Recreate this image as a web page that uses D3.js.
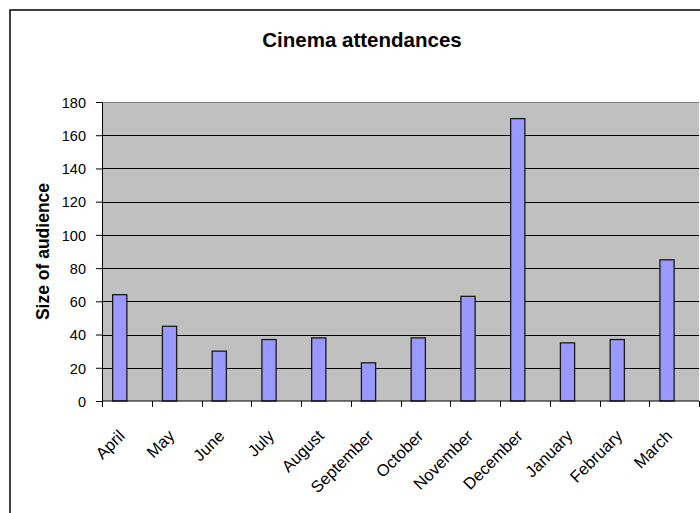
<!DOCTYPE html>
<html>
<head>
<meta charset="utf-8">
<script src="https://cdn.jsdelivr.net/npm/d3@7"></script>
<style>
    body { margin: 0; background: #fff; }
    svg { display: block; font-family: Arial, 'Liberation Sans', sans-serif; }
</style>
</head>
<body>
<div id="chart"></div>
<script>
'use strict';

var months = ['April', 'May', 'June', 'July', 'August', 'September', 'October', 'November', 'December', 'January', 'February', 'March'];
var audience = [64, 45, 30, 37, 38, 23, 38, 63, 170, 35, 37, 85];
var yTicks = [0, 20, 40, 60, 80, 100, 120, 140, 160, 180];

var width = 700,
    height = 513,
    margin = { top: 102, right: 1, bottom: 112, left: 102 },
    svg = d3.select('#chart').append('svg').attr('width', width).attr('height', height);

var x = d3.scaleBand().domain(months).range([margin.left, width - margin.right]),
    y = d3.scaleLinear().domain([0, 180]).range([height - margin.bottom, margin.top]),
    // excel style: room for two series, gap 150%, only first one has data
    barW = x.bandwidth() / 3.5;

// outer chart frame
svg.append('rect').attr('x', 10).attr('y', 10).attr('width', 730).attr('height', 540)
    .style('fill', 'none').style('stroke', '#000').style('stroke-width', 1.5);

svg.append('text').attr('x', 362).attr('y', 47).style('text-anchor', 'middle')
    .style('font-size', '20.5px').style('font-weight', 'bold').text('Cinema attendances');

// plot area
svg.append('rect').attr('x', margin.left).attr('y', margin.top)
    .attr('width', width - margin.right - margin.left).attr('height', y(0) - margin.top)
    .style('fill', '#c0c0c0');

svg.append('line').attr('x1', margin.left).attr('x2', width - margin.right)
    .attr('y1', margin.top + 0.5).attr('y2', margin.top + 0.5).style('stroke', '#808080');

svg.append('g').selectAll('line').data(yTicks.filter(function (d) {
    return d > 0 && d < 180;
})).enter().append('line')
    .attr('x1', margin.left).attr('x2', width - margin.right)
    .attr('y1', function (d) { return Math.round(y(d)) + 0.5; })
    .attr('y2', function (d) { return Math.round(y(d)) + 0.5; })
    .style('stroke', '#000').style('stroke-width', 1.2);

svg.append('g').selectAll('rect').data(audience).enter().append('rect')
    .attr('x', function (d, i) { return x(months[i]) + barW * 0.75; })
    .attr('y', function (d) { return y(d); })
    .attr('width', barW)
    .attr('height', function (d) { return y(0) - y(d); })
    .style('fill', '#9999ff').style('stroke', '#1a1a1a').style('stroke-width', 1.3);

// y axis
var yAxis = svg.append('g').attr('transform', 'translate(' + margin.left + ',0)')
    .call(d3.axisLeft(y).tickValues(yTicks).tickSize(6).tickPadding(10).tickSizeOuter(0));
yAxis.select('.domain').style('stroke', '#000');
yAxis.selectAll('text').style('font-size', '14.5px').style('fill', '#000').attr('dy', '0.36em');

// x axis, ticks between categories
var xAxis = svg.append('g').attr('transform', 'translate(0,' + y(0) + ')');
xAxis.append('line').attr('x1', margin.left).attr('x2', width - margin.right).style('stroke', '#000');
xAxis.selectAll('.tick').data(months.concat(['end'])).enter().append('line')
    .attr('x1', function (d, i) { return Math.round(margin.left + i * x.bandwidth()) + 0.5; })
    .attr('x2', function (d, i) { return Math.round(margin.left + i * x.bandwidth()) + 0.5; })
    .attr('y1', 0).attr('y2', 6).style('stroke', '#000');

svg.append('g').selectAll('text').data(months).enter().append('text')
    .attr('transform', function (d) {
        return 'translate(' + (x(d) + x.bandwidth() / 2 - 1) + ',437) rotate(-45)';
    })
    .style('text-anchor', 'end').style('font-size', '16.5px').text(function (d) {
        return d;
    });

svg.append('text').attr('transform', 'translate(49,' + (y(0) + margin.top) / 2 + ') rotate(-90)')
    .style('text-anchor', 'middle').style('font-size', '17.5px').style('font-weight', 'bold')
    .text('Size of audience');
</script>
</body>
</html>
